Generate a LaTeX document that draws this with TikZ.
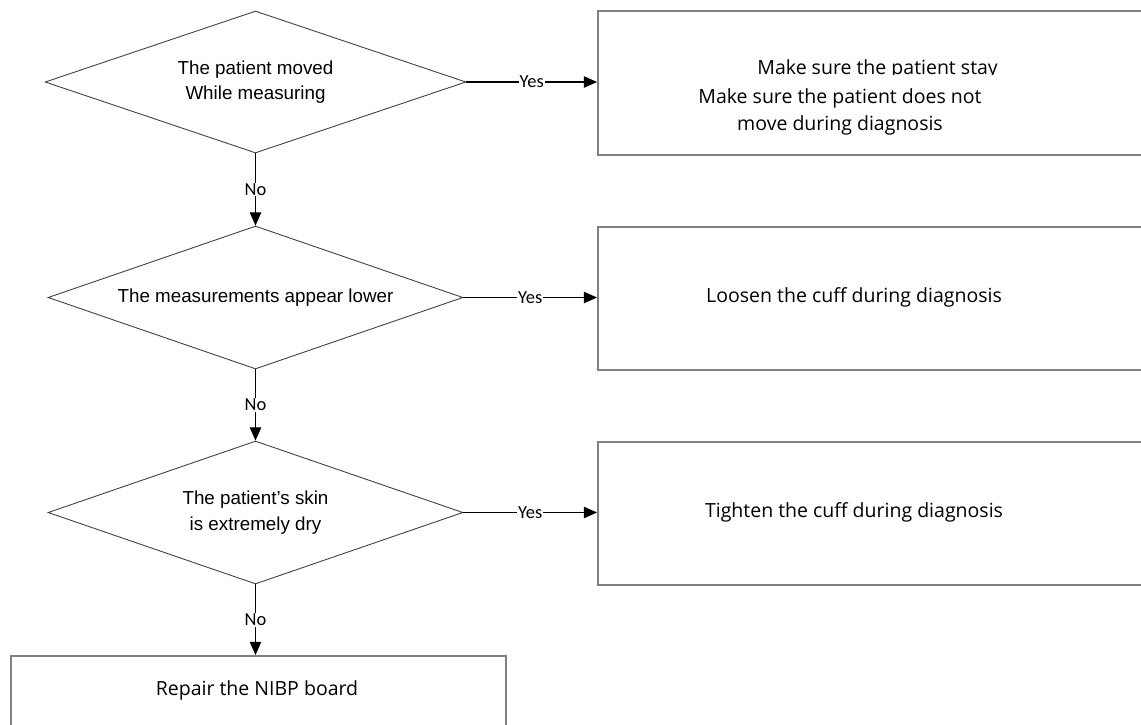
\documentclass[tikz,border=0pt]{standalone}
\usepackage{fontspec}
\setmainfont{Liberation Sans}
\newfontfamily\boxfont{Open Sans}
\newfontfamily\lblfont{Carlito}
\usetikzlibrary{shapes.geometric,arrows.meta}
\begin{document}
\begin{tikzpicture}[x=0.02cm, y=-0.02cm,
  test/.style={diamond,draw=black!75,line width=0.5pt,inner sep=0pt,shape aspect=2.9,
    align=center,font=\fontsize{10.7}{14.5}\selectfont},
  cure/.style={draw=black!50,line width=1pt,anchor=north west,inner sep=0pt},
  curetxt/.style={align=center,font=\boxfont\fontsize{11.1}{15}\selectfont},
  flow/.style={line width=0.6pt,-{Triangle[length=7.5pt,width=6.5pt]}},
  ans/.style={fill=white,inner sep=0.5pt,font=\lblfont\fontsize{10.5}{12}\selectfont}]
\clip (0,0) rectangle (1141,724);
\fill[white] (0,0) rectangle (1141,724);
% questions on the left
\node[test,minimum width=8.42cm,minimum height=2.84cm] (q1) at (255.5,82) {The patient moved\\While measuring};
\node[test,minimum width=8.30cm,minimum height=2.86cm] (q2) at (255.5,297.5) {The measurements appear lower};
\node[test,minimum width=8.30cm,minimum height=2.86cm] (q3) at (255.5,512.5) {The patient's skin\\is extremely dry};
% actions on the right, cut off by the page edge
\node[cure,minimum width=11.2cm,minimum height=2.88cm] (a1) at (597,10) {};
\node[cure,minimum width=11.2cm,minimum height=2.86cm] (a2) at (597,226) {};
\node[cure,minimum width=11.2cm,minimum height=2.86cm] (a3) at (597,441) {};
\node[cure,minimum width=9.9cm,minimum height=1.6cm] (fix) at (10,655) {};
\begin{scope}
\clip (600,50) rectangle (1100,74.5);
\node[curetxt,anchor=east] (t0) at (1004,69) {Make sure the patient stay};
\end{scope}
\node[curetxt] (t1) at (840,112) {Make sure the patient does not\\move during diagnosis};
\node[curetxt] (t2) at (854,297) {Loosen the cuff during diagnosis};
\node[curetxt] (t3) at (854,512) {Tighten the cuff during diagnosis};
\node[curetxt] (t4) at (257,690) {Repair the NIBP board};
% yes branches
\draw[flow] (q1.east) -- node[ans] (y1) {Yes} (a1.west |- q1.east);
\draw[flow] (q2.east) -- node[ans] (y2) {Yes} (a2.west |- q2.east);
\draw[flow] (q3.east) -- node[ans] (y3) {Yes} (a3.west |- q3.east);
% no branches
\draw[flow] (q1.south) -- node[ans] (n1) {No} (q2.north);
\draw[flow] (q2.south) -- node[ans] (n2) {No} (q3.north);
\draw[flow] (q3.south) -- node[ans] (n3) {No} (q3.south |- fix.north);
\end{tikzpicture}
\end{document}
